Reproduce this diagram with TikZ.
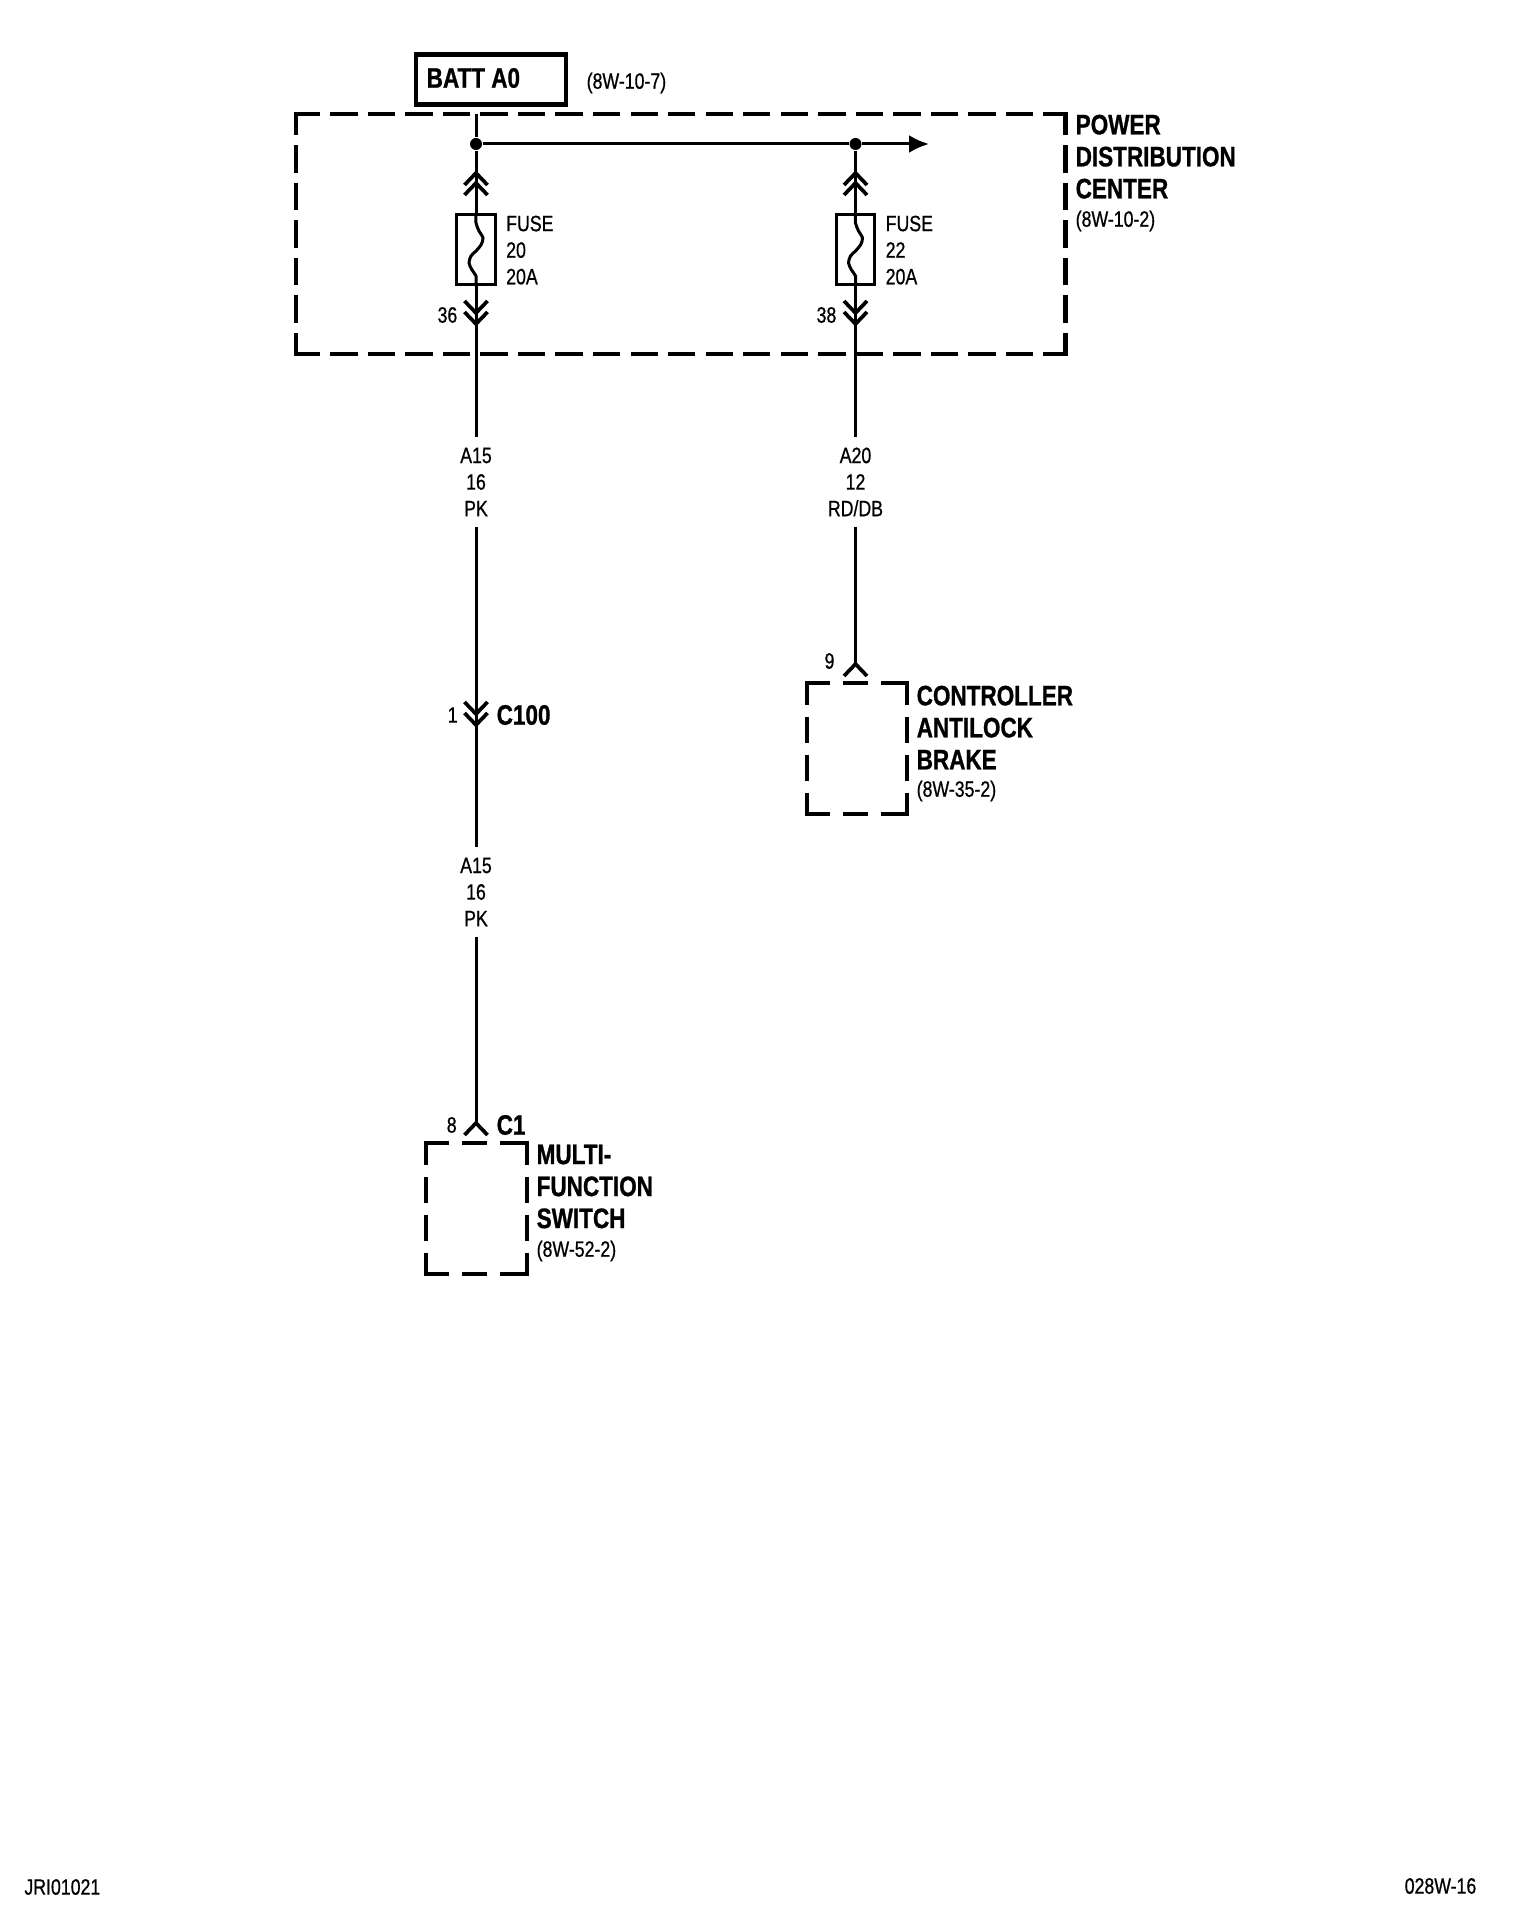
\documentclass[tikz,border=0pt]{standalone}
\usepackage{fontspec}
\setmainfont[FakeStretch=0.8,FakeBold=0.7,BoldFeatures={FakeBold=0.9}]{Liberation Sans}
\usetikzlibrary{arrows.meta}
\tikzstyle{wire} = [line width=0.03cm]
\tikzstyle{chevron} = [line width=0.037cm]
\tikzstyle{busarrow} = [wire,-{Latex[length=0.2cm,width=0.18cm]}]
\tikzstyle{junction} = [circle,fill=black,inner sep=0pt,minimum size=0.12cm]
\tikzstyle{fuse} = [draw,line width=0.03cm,minimum width=0.38cm,minimum height=0.7cm,inner sep=0pt]
\tikzstyle{source} = [draw,line width=0.042cm,minimum width=1.5cm,minimum height=0.5cm,inner sep=0pt]
\tikzstyle{dashbig} = [line width=0.044cm,line cap=rect,dash pattern=on 0.23cm off 0.145cm]
\tikzstyle{dashsmall} = [line width=0.044cm,line cap=rect,dash pattern=on 0.21cm off 0.17cm]
\tikzstyle{small} = [inner sep=0pt,font=\fontsize{6.3}{7.55}\selectfont]
\tikzstyle{wirelabel} = [small,align=center,fill=white,minimum height=0.88cm,inner xsep=0.05cm]
\tikzstyle{title} = [inner sep=0pt,align=left,anchor=north west,font=\fontsize{8}{9.1}\selectfont\bfseries]
\newcommand{\chevup}[1]{\draw[chevron] ([shift={(-11.5,12)}]#1) -- (#1) -- ([shift={(11.5,12)}]#1);}
\newcommand{\chevdown}[1]{\draw[chevron] ([shift={(-11.5,-12)}]#1) -- (#1) -- ([shift={(11.5,-12)}]#1);}
\newcommand{\fusewave}[1]{\draw[wire,shift={(#1.north)}] plot[smooth] coordinates {(0,0) (0,10) (3,18) (7,25) (5,32) (0,38) (-5,43) (-7,50) (-4,57) (0,63) (0,70)};}

\begin{document}
\begin{tikzpicture}[x=0.01cm,y=-0.01cm]
\useasboundingbox (0,0) rectangle (1520,1928);
% power distribution center outline
\draw[dashbig,dash phase=0.01cm] (296,114)--(1065.5,114);
\draw[dashbig,dash phase=0.01cm] (296,354)--(1065.5,354);
\draw[dashbig,dash phase=0.04cm] (296,114)--(296,354);
\draw[dashbig,dash phase=0.04cm] (1065.5,114)--(1065.5,354);
% controller outline
\draw[dashsmall] (806.7,683)--(906.7,683);
\draw[dashsmall] (806.7,814)--(906.7,814);
\draw[dashsmall,dash phase=0.014cm] (806.7,683)--(806.7,814);
\draw[dashsmall,dash phase=0.014cm] (906.7,683)--(906.7,814);
% switch outline
\draw[dashsmall] (426,1143)--(526.7,1143);
\draw[dashsmall] (426,1274)--(526.7,1274);
\draw[dashsmall,dash phase=0.014cm] (426,1143)--(426,1274);
\draw[dashsmall,dash phase=0.014cm] (526.7,1143)--(526.7,1274);

\node[source] (batt) at (491,79.5) {};
\node[title,anchor=west] (battname) at (426,78) {BATT A0};
\node[small,anchor=west] (battref) at (586,83) {(8W-10-7)};

\coordinate (topa) at (476,114);
\node[junction] (busa) at (476,144) {};
\node[junction] (busb) at (855.5,144) {};
\coordinate (busend) at (929,144);
\coordinate (upa1) at (476,173);
\coordinate (upa2) at (476,183);
\coordinate (upb1) at (855.5,173);
\coordinate (upb2) at (855.5,183);
\node[fuse] (fusea) at (476,249.5) {};
\node[fuse] (fuseb) at (855.5,249.5) {};
\coordinate (downa1) at (476,313);
\coordinate (downa2) at (476,324);
\coordinate (downb1) at (855.5,313);
\coordinate (downb2) at (855.5,324);

\node[wirelabel] (a15top) at (476,482) {A15\\16\\PK};
\node[wirelabel] (a20) at (855.5,482) {A20\\12\\RD/DB};
\node[wirelabel] (a15low) at (476,892) {A15\\16\\PK};
\coordinate (cona1) at (476,714);
\coordinate (cona2) at (476,725);
\coordinate (pinabs) at (855.5,664);
\coordinate (pinswitch) at (476,1123);

\draw[wire] (topa)--(busa)--(fusea.north);
\draw[busarrow] (busa)--(busb)--(busend);
\draw[wire] (busb)--(fuseb.north);
\draw[wire] (fusea.south)--(a15top);
\draw[wire] (fuseb.south)--(a20);
\draw[wire] (a15top)--(a15low);
\draw[wire] (a15low)--(pinswitch);
\draw[wire] (a20)--(pinabs);
\fusewave{fusea}
\fusewave{fuseb}
\chevup{upa1} \chevup{upa2} \chevup{upb1} \chevup{upb2}
\chevdown{downa1} \chevdown{downa2} \chevdown{downb1} \chevdown{downb2}
\chevdown{cona1} \chevdown{cona2}
\chevup{pinabs} \chevup{pinswitch}

\node[small,anchor=north west,align=left] (fusealabel) at (505.5,215) {FUSE\\20\\20A};
\node[small,anchor=north west,align=left] (fuseblabel) at (885,215) {FUSE\\22\\20A};
\node[small,anchor=east] (pina) at (458,315) {36};
\node[small,anchor=east] (pinb) at (837,315) {38};
\node[title] (pdcname) at (1075,114) {POWER\\DISTRIBUTION\\CENTER};
\node[small,anchor=west] (pdcref) at (1075,221) {(8W-10-2)};
\node[small] (pin1) at (452.7,715) {1};
\node[title,anchor=west] (c100) at (496,715) {C100};
\node[small] (pin9) at (829.5,661) {9};
\node[title] (absname) at (916,685) {CONTROLLER\\ANTILOCK\\BRAKE};
\node[small,anchor=west] (absref) at (916,791) {(8W-35-2)};
\node[small] (pin8) at (451.7,1125) {8};
\node[title,anchor=west] (c1) at (496,1125) {C1};
\node[title] (swname) at (536,1144) {MULTI-\\FUNCTION\\SWITCH};
\node[small,anchor=west] (swref) at (536,1251) {(8W-52-2)};
\node[small,anchor=east] (leftcode) at (101,1887) {JRI01021};
\node[small,anchor=east] (rightcode) at (1477,1886) {028W-16};
\end{tikzpicture}
\end{document}
